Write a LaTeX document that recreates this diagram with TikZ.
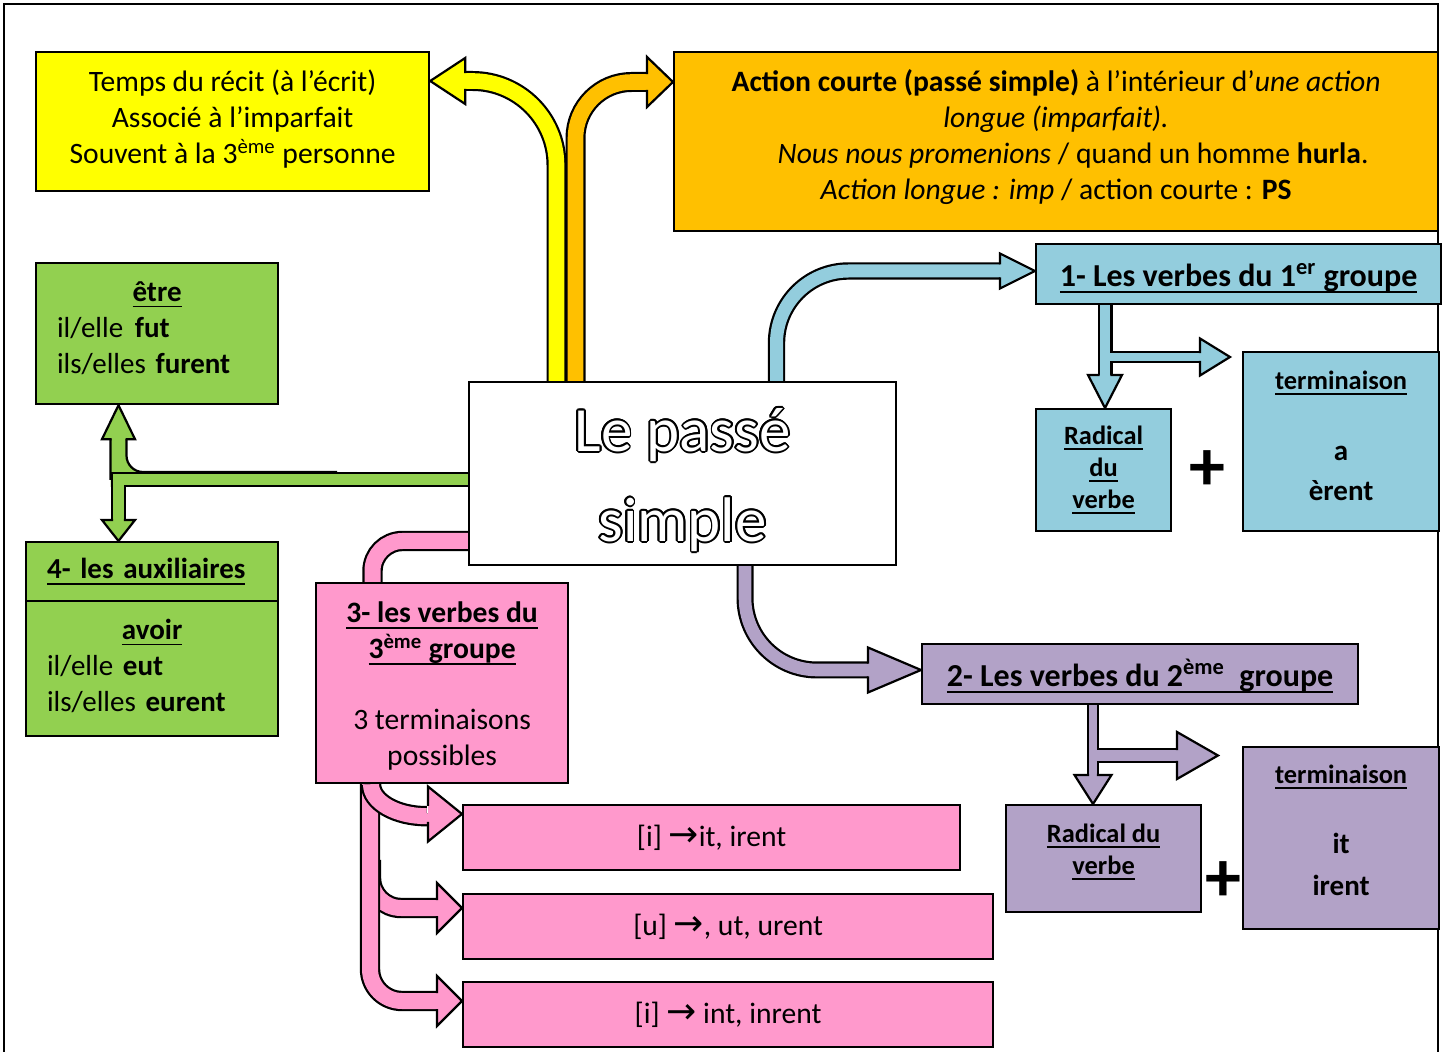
\documentclass[tikz,border=0pt]{standalone}
\usepackage{fontspec}
\setmainfont{Carlito}
\newfontfamily\symb{DejaVu Sans}
\usetikzlibrary{backgrounds}
\newcommand{\souligne}[1]{\setbox0\hbox{#1}\rlap{\rule[-0.2em]{\wd0}{0.065em}}\box0}
\newcommand{\hautligne}[1]{\rule{0pt}{#1}}
\newcommand{\basligne}[1]{\rule[-#1]{0pt}{#1}}
\newcommand{\detoure}[1]{%
	\foreach \ang in {0,22.5,...,337.5}{%
		\pgfmathsetlengthmacro\dx{0.9pt*cos(\ang)}%
		\pgfmathsetlengthmacro\dy{0.9pt*sin(\ang)}%
		\rlap{\kern\dx\raisebox{\dy}{\textcolor{black}{#1}}}}%
	#1}
\definecolor{jaune}{HTML}{FFFF00}
\definecolor{orangeps}{HTML}{FFC000}
\definecolor{vert}{HTML}{92D050}
\definecolor{bleu}{HTML}{93CDDD}
\definecolor{mauve}{HTML}{B2A2C7}
\definecolor{rose}{HTML}{FF99CC}
\tikzset{
	trait/.style={
		line width=1.1pt,
		line join=miter
	},
	fleche/.style 2 args={
		line width=1.1pt,
		draw=black,
		double=#1,
		double distance=#2
	},
	txt/.style={font=\fontsize{14.8}{18}\selectfont},
	grand/.style={font=\fontsize{16}{19}\selectfont\bfseries},
	petit/.style={font=\fontsize{13.2}{16}\selectfont\bfseries},
	boite/.style={
		draw,
		line width=1.1pt,
		fill=#1,
		anchor=north west,
		inner sep=0pt,
		align=center,
		txt
	},
	% pointe posee a son sommet
	pics/tete/.style n args={4}{code={
		\fill[#4] (0,0) -- (-#1,-#2) -- (-#1,#2) -- cycle;
		\draw[trait] (-#1,-#3) -- (-#1,-#2) -- (0,0) -- (-#1,#2) -- (-#1,#3);
	}}
}

\begin{document}
\begin{tikzpicture}[x=0.5pt,y=-0.5pt]
	\useasboundingbox (0,0) rectangle (1446,1052);
	\draw[line width=0.8pt] (4,1052) -- (4,4) -- (1438,4) -- (1438,1052);
	
	%%%%%%%% BOITES
	\node[boite=jaune, minimum width=196.5pt, minimum height=69.5pt] (recit) at (35,51)
		{\hautligne{12.3pt}Temps du récit (à l’écrit)\\Associé à l’imparfait\\Souvent à la 3\textsuperscript{ème} personne\basligne{6pt}};
	\node[boite=orangeps, minimum width=382pt, minimum height=89.5pt] (action) at (673,51)
		{\hautligne{12.1pt}\textbf{Action courte (passé simple)} à l’intérieur d’\textit{une action}\\
		\textit{longue (imparfait).}\\
		\hspace*{17pt}\textit{Nous nous promenions} / quand un homme \textbf{hurla}.\\
		\textit{Action longue : imp} / action courte : \textbf{PS}\basligne{8pt}};
	\node[boite=vert, minimum width=121pt, minimum height=70.5pt, text width=100pt, align=left,
		font=\fontsize{14.5}{18}\selectfont] (etre) at (35,262)
		{\hautligne{12.1pt}\hfill\textbf{\souligne{être}}\hfill\null\\il/elle \hspace{1pt}\textbf{fut}\\ils/elles \textbf{furent}\basligne{8pt}};
	\node[boite=vert, minimum width=126pt, minimum height=29.5pt, text width=105pt, align=left,
		font=\fontsize{14.5}{18}\selectfont] (auxtitre) at (25,541)
		{\textbf{\souligne{4- les auxiliaires}}};
	\node[boite=vert, minimum width=126pt, minimum height=67.5pt, text width=105pt, align=left,
		font=\fontsize{14.5}{18}\selectfont] (avoir) at (25,600)
		{\hautligne{14.1pt}\hfill\textbf{\souligne{avoir}}\hfill\null\\il/elle \textbf{eut}\\ils/elles \textbf{eurent}\basligne{7pt}};
	\node[boite=white, minimum width=213.5pt, minimum height=91.5pt, text=white,
		font=\fontsize{31.5}{45}\selectfont] (titre) at (468,381)
		{\hautligne{31.7pt}\detoure{Le passé}\\\detoure{simple}\basligne{9pt}};
	
	\node[boite=bleu, minimum width=202.5pt, minimum height=30pt, grand] (groupe1) at (1035,243)
		{\hautligne{17.6pt}\souligne{1- Les verbes du 1\textsuperscript{er} groupe}\basligne{5pt}};
	\node[boite=bleu, minimum width=67.5pt, minimum height=61pt, petit] (radical1) at (1035,408)
		{\souligne{Radical}\\\souligne{du}\\\souligne{verbe}};
	\node[boite=bleu, minimum width=98pt, minimum height=89.5pt, font=\fontsize{14.5}{20}\selectfont\bfseries] (term1) at (1242,351)
		{{\fontsize{13.2}{16}\selectfont\hautligne{10.7pt}\souligne{terminaison}}\\[15.5pt]a\\èrent\basligne{7pt}};
	\node[font=\fontsize{36}{36}\selectfont\bfseries] (plus1) at (1207,471) {+};
	
	\node[boite=mauve, minimum width=218pt, minimum height=30pt, grand] (groupe2) at (921,643)
		{\hautligne{17.6pt}\souligne{2- Les verbes du 2\textsuperscript{ème}\ \ groupe}\basligne{5pt}};
	\node[boite=mauve, minimum width=97.5pt, minimum height=53.5pt, petit] (radical2) at (1005,804)
		{\hautligne{10.2pt}\souligne{Radical du}\\\souligne{verbe}\basligne{10pt}};
	\node[boite=mauve, minimum width=98pt, minimum height=91pt, font=\fontsize{14.5}{21}\selectfont\bfseries] (term2) at (1242,746)
		{{\fontsize{13.2}{16}\selectfont\hautligne{10.7pt}\souligne{terminaison}}\\[14pt]it\\irent\basligne{9pt}};
	\node[font=\fontsize{36}{36}\selectfont\bfseries] (plus2) at (1223,882) {+};
	
	\node[boite=rose, minimum width=126pt, minimum height=100pt] (groupe3) at (315,582)
		{\hautligne{18.3pt}\textbf{\souligne{3- les verbes du}}\\\textbf{\souligne{3\textsuperscript{ème} groupe}}\\[17.5pt]3 terminaisons\\possibles\basligne{7pt}};
	\node[boite=rose, minimum width=248.5pt, minimum height=32.5pt] (fin1) at (462,804)
		{[i] {\symb\fontsize{18}{18}\selectfont →}it, irent};
	\node[boite=rose, minimum width=265pt, minimum height=32.5pt] (fin2) at (462,893)
		{[u] {\symb\fontsize{18}{18}\selectfont →}, ut, urent};
	\node[boite=rose, minimum width=265pt, minimum height=32.5pt] (fin3) at (462,981)
		{[i] {\symb\fontsize{18}{18}\selectfont →} int, inrent};
	
	%%%%%%%% FLECHES
	\begin{scope}[on background layer]
		\draw[fleche={jaune}{7.8pt}, rounded corners=42pt] (556.5,0 |- titre.north) |- (463,81);
		\pic[rotate=180] at (recit.east |- 0,81) {tete={35}{23}{7.8}{jaune}};
		\draw[fleche={orangeps}{7.8pt}, rounded corners=28pt] (575.5,0 |- titre.north) |- (647,82);
		\pic at (action.west |- 0,82) {tete={26}{25}{7.8}{orangeps}};
		
		\draw[fleche={bleu}{6.5pt}, rounded corners=36pt] (776.5,0 |- titre.north) |- (1000,271);
		\pic at (groupe1.west |- 0,271) {tete={35}{17.5}{6.5}{bleu}};
		\draw[fleche={bleu}{5.3pt}] (1105,0 |- groupe1.south) -- (1105,375);
		\pic[rotate=-90] at (1105,0 |- radical1.north) {tete={33}{17}{5.3}{bleu}};
		\draw[fleche={bleu}{3.8pt}] (1110,357) -- (1200,357);
		\pic at (1230,357) {tete={30}{18.5}{3.8}{bleu}};
		
		\draw[fleche={mauve}{6.3pt}, rounded corners=36pt] (745,0 |- titre.south) |- (868,670);
		\pic at (groupe2.west |- 0,670) {tete={53}{22.5}{6.3}{mauve}};
		\draw[fleche={mauve}{3.8pt}] (1093,0 |- groupe2.south) -- (1093,775);
		\pic[rotate=-90] at (1093,0 |- radical2.north) {tete={29}{18.5}{3.8}{mauve}};
		\draw[fleche={mauve}{5.3pt}] (1097,755.5) -- (1177,755.5);
		\pic at (1218,755.5) {tete={41}{23.5}{5.3}{mauve}};
		
		% vert : branche vers le haut puis le L
		\fill[vert] (337,472) -- (143,472) arc[start angle=90, end angle=180, radius=16.5]
			-- (126.5,437) -- (110.5,437) -- (110.5,487) -- (337,487) -- cycle;
		\draw[trait] (337,472) -- (143,472) arc[start angle=90, end angle=180, radius=16.5]
			-- (126.5,437) (110.5,437) -- (110.5,480);
		\pic[rotate=90] at (118.5,0 |- etre.south) {tete={34}{16.5}{7}{vert}};
		\draw[fleche={vert}{5.3pt}, line join=miter] (titre.west |- 0,479.5) -| (118.5,520);
		\pic[rotate=-90] at (118.5,0 |- auxtitre.north) {tete={21}{16.5}{5.3}{vert}};
		
		% rose
		\draw[fleche={rose}{8pt}, rounded corners=15pt] (371,860) |- (437,908);
		\pic at (fin2.west |- 0,908) {tete={25}{25}{8}{rose}};
		\draw[fleche={rose}{8pt}, rounded corners=16pt] (370,0 |- groupe3.south) |- (437,1001);
		\pic at (fin3.west |- 0,1001) {tete={25}{25}{8}{rose}};
		\draw[fleche={rose}{8pt}] (371,0 |- groupe3.south)
			arc[start angle=180, end angle=90, x radius=55.5, y radius=32] -- (428,814);
		\pic at (fin1.west |- 0,814) {tete={34}{27.5}{8}{rose}};
		\draw[fleche={rose}{8pt}, rounded corners=15pt] (titre.west |- 0,541) -| (372.5,0 |- groupe3.north);
	\end{scope}
\end{tikzpicture}
\end{document}
